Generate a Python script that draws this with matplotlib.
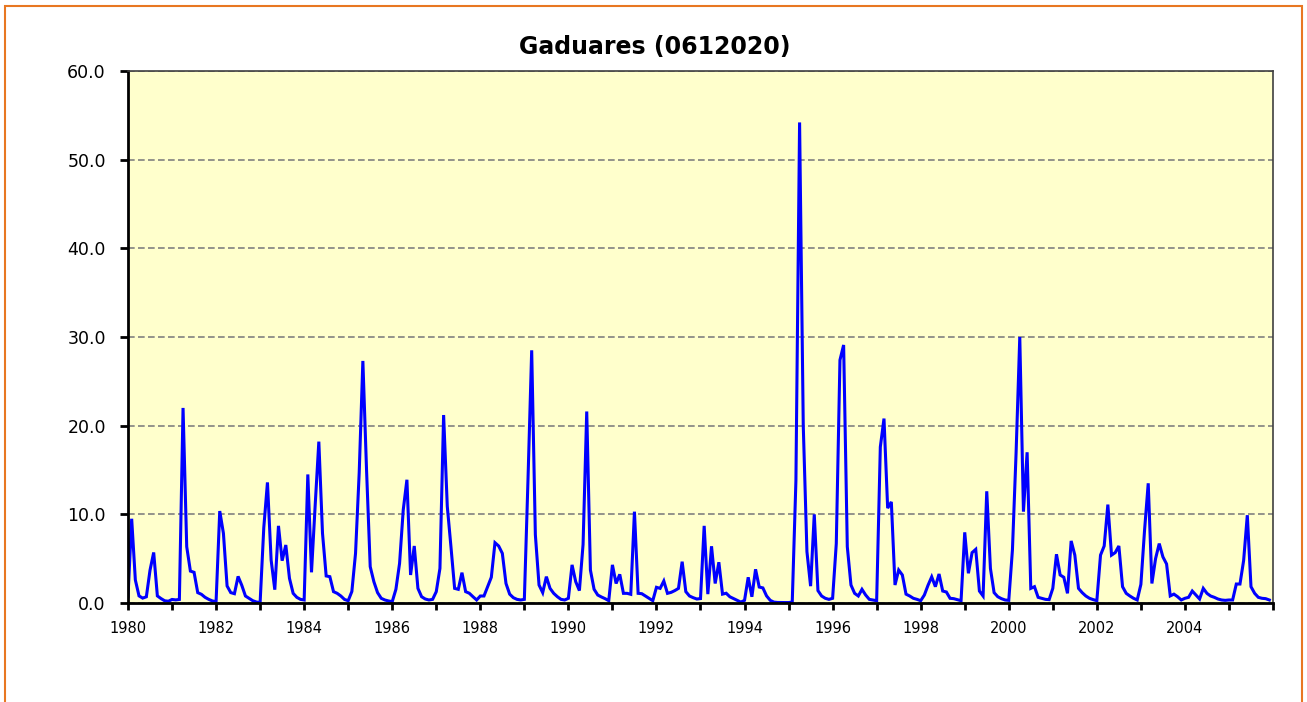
import matplotlib
matplotlib.use("Agg")
import matplotlib.pyplot as plt
import numpy as np
from matplotlib.patches import Rectangle
from matplotlib.ticker import MultipleLocator, FuncFormatter

title = "Gaduares (0612020)"
start_year = 1980
end_year = 2006

# Monthly flow values (Jan..Dec per row)
flow_1980s = [
    0.7, 9.5, 2.6, 0.8, 0.55, 0.7, 3.7, 5.7, 0.8, 0.5, 0.25, 0.2,        # 1980
    0.4, 0.35, 0.4, 22.0, 6.35, 3.6, 3.46, 1.17, 0.98, 0.64, 0.41, 0.23,  # 1981
    0.15, 10.37, 7.86, 1.92, 1.17, 1.05, 3.0, 2.0, 0.79, 0.53, 0.26, 0.11,  # 1982
    0.05, 8.5, 13.6, 4.85, 1.5, 8.7, 4.77, 6.54, 2.78, 1.09, 0.64, 0.41,  # 1983
    0.34, 14.5, 3.46, 11.0, 18.2, 7.86, 3.05, 2.97, 1.28, 1.09, 0.79, 0.4,  # 1984
    0.26, 1.3, 5.6, 14.7, 27.3, 15.0, 4.1, 2.4, 1.17, 0.53, 0.34, 0.23,  # 1985
    0.15, 1.54, 4.47, 10.5, 13.9, 3.16, 6.43, 1.65, 0.71, 0.45, 0.34, 0.41,  # 1986
    1.28, 3.9, 21.2, 10.9, 6.35, 1.65, 1.54, 3.42, 1.28, 1.1, 0.71, 0.34,  # 1987
    0.79, 0.79, 1.84, 2.9, 6.8, 6.43, 5.6, 2.2, 1.0, 0.6, 0.41, 0.34,     # 1988
    0.41, 14.0, 28.5, 7.7, 2.03, 1.17, 2.97, 1.65, 1.09, 0.71, 0.41, 0.34,  # 1989
]
flow_1990s = [
    0.53, 4.3, 2.4, 1.4, 6.6, 21.6, 3.72, 1.55, 0.9, 0.68, 0.49, 0.26,    # 1990
    4.3, 2.2, 3.23, 1.09, 1.09, 0.98, 10.3, 1.09, 1.05, 0.79, 0.53, 0.26,  # 1991
    1.77, 1.65, 2.48, 1.09, 1.2, 1.4, 1.65, 4.66, 1.28, 0.79, 0.6, 0.45,  # 1992
    0.5, 8.7, 1.0, 6.4, 2.2, 4.6, 1.0, 1.1, 0.7, 0.5, 0.3, 0.1,           # 1993
    0.3, 2.9, 0.7, 3.8, 1.8, 1.7, 0.8, 0.3, 0.1, 0.06, 0.05, 0.05,        # 1994
    0.05, 0.1, 13.8, 54.2, 20.0, 5.8, 1.9, 10.0, 1.4, 0.79, 0.53, 0.41,   # 1995
    0.53, 6.7, 27.4, 29.1, 6.35, 2.03, 1.09, 0.79, 1.54, 0.9, 0.41, 0.34,  # 1996
    0.26, 17.6, 20.8, 10.7, 11.4, 2.03, 3.72, 3.16, 1.0, 0.79, 0.53, 0.41,  # 1997
    0.26, 0.9, 2.0, 2.95, 1.84, 3.27, 1.35, 1.24, 0.53, 0.49, 0.38, 0.26,  # 1998
    7.97, 3.35, 5.68, 6.05, 1.35, 0.79, 12.6, 3.9, 1.17, 0.71, 0.49, 0.34,  # 1999
]
flow_2000s = [
    0.3, 6.0, 17.0, 30.0, 10.3, 17.0, 1.65, 1.84, 0.64, 0.53, 0.41, 0.38,  # 2000
    1.65, 5.5, 3.16, 2.9, 1.09, 7.0, 5.4, 1.65, 1.17, 0.79, 0.53, 0.38,   # 2001
    0.26, 5.4, 6.43, 11.1, 5.4, 5.68, 6.43, 1.84, 1.09, 0.79, 0.53, 0.34,  # 2002
    2.1, 8.2, 13.5, 2.2, 5.0, 6.7, 5.2, 4.4, 0.8, 1.0, 0.71, 0.34,        # 2003
    0.53, 0.64, 1.35, 0.9, 0.45, 1.65, 1.09, 0.79, 0.64, 0.45, 0.34, 0.3,  # 2004
    0.34, 0.34, 2.14, 2.14, 4.8, 9.9, 1.84, 1.09, 0.64, 0.53, 0.49, 0.34,  # 2005
]

flow = np.array(flow_1980s + flow_1990s + flow_2000s)
t = start_year + np.arange(len(flow)) / 12.0

W, H = 1307, 702
fig = plt.figure(figsize=(W / 100, H / 100), dpi=100)
fig.patch.set_facecolor("white")

# orange outer frame
fig.add_artist(Rectangle((5 / W, -0.05), (1302 - 5) / W, 1 - 6 / H + 0.05,
                         transform=fig.transFigure, fill=False,
                         edgecolor="#E87722", linewidth=1.5))

ax = fig.add_axes([128 / W, 1 - 603 / H, (1273 - 128) / W, (603 - 71) / H])
ax.set_facecolor("#FFFFCC")

ax.plot(t, flow, color="#0000FF", linewidth=2.2, solid_joinstyle="miter")

ax.set_xlim(start_year, end_year)
ax.set_ylim(0, 60)

ax.yaxis.set_major_locator(MultipleLocator(10))
ax.yaxis.set_major_formatter(FuncFormatter(lambda v, p: f"{v:.1f}"))
ax.xaxis.set_major_locator(MultipleLocator(1))
ax.xaxis.set_major_formatter(FuncFormatter(
    lambda v, p: f"{int(round(v))}" if int(round(v)) % 2 == 0 and v < end_year - 0.5 else ""))

ax.grid(axis="y", color="#808080", linestyle=(0, (4, 2)), linewidth=1.2)
ax.set_axisbelow(True)

for s in ["left", "bottom"]:
    ax.spines[s].set_linewidth(2.0)
    ax.spines[s].set_color("black")
ax.spines["top"].set_linewidth(1.2)
ax.spines["top"].set_color("#404040")
ax.spines["right"].set_linewidth(1.2)
ax.spines["right"].set_color("#404040")

ax.tick_params(axis="y", direction="out", length=6, width=2, labelsize=12.5, pad=10)
ax.tick_params(axis="x", direction="out", length=5, width=2, labelsize=10.5, pad=8)

fig.text(655 / W, 1 - 47 / H, title, ha="center", va="center",
         fontsize=17, fontweight="bold")

fig.savefig("out.png", dpi=100, facecolor="white")
